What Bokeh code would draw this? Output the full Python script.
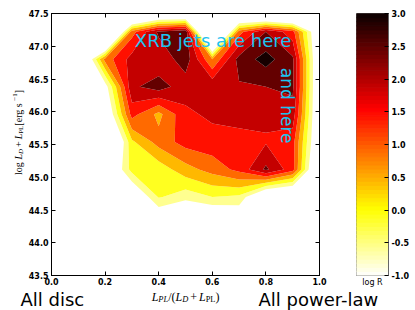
import numpy as np
from bokeh.plotting import figure
from bokeh.layouts import row, column
from bokeh.models import (Label, LinearAxis, FixedTicker, Range1d, ColumnDataSource,
                          PrintfTickFormatter)
from bokeh.embed import file_html
from bokeh.resources import INLINE

# ---------------- data ----------------
frac_pl = [0.0, 0.1, 0.2, 0.3, 0.4, 0.5, 0.6, 0.7, 0.8, 0.9, 1.0]
log_lum = [43.86, 44.28, 44.70, 45.12, 45.54, 45.96, 46.38, 46.80, 47.22, 47.64]

# log R on the grid, one list per luminosity row (x = frac_pl)
log_r_4764 = [-6, -6, -6, -6, -5, -5, -5, -5, -6, -6, -6]
log_r_4722 = [-6, -6, -5, 0.8, 2.1, 2.4, -5, 0.8, 2.0, 1.2, -2]
log_r_4680 = [-6, -2.8, 0.7, 1.7, 1.6, 2.3, 0.5, 2.2, 2.7, 2.1, -2]
log_r_4638 = [-6, -3.5, -1.3, 1.9, 2.25, 1.7, 1.9, 1.95, 2.0, 2.1, -2]
log_r_4596 = [-6, -5, -1.9, 1.2, 0.35, 1.4, 1.6, 1.6, 1.6, 1.8, -2]
log_r_4554 = [-6, -5, -3.1, -0.1, 0.7, 1.2, 1.3, 1.4, 1.45, 1.2, -2]
log_r_4512 = [-6, -5, -2.2, -0.3, -0.3, 0.3, 0.7, 1.15, 2.1, 1.2, -2.5]
log_r_4470 = [-6, -5, -3, -1.9, -0.45, -0.8, -0.5, -0.6, -2.2, -2.5, -3]
log_r_4428 = [-6, -6, -4, -3, -1.94, -2.5, -2.2, -1.9, -3, -3, -4]
log_r_4386 = [-6, -6, -6, -6, -6, -6, -6, -6, -6, -6, -6]

levels = [-1.0, -0.5, 0.0, 0.5, 1.0, 1.5, 2.0, 2.5, 3.0]
band_colors = ["#ffff90", "#ffff20", "#ffb800", "#ff6a00",
               "#ff1000", "#c40000", "#640000", "#160000"]

x_ticks = [0.0, 0.2, 0.4, 0.6, 0.8, 1.0]
y_ticks = [43.5, 44.0, 44.5, 45.0, 45.5, 46.0, 46.5, 47.0, 47.5]
cbar_ticks = [-1.0, -0.5, 0.0, 0.5, 1.0, 1.5, 2.0, 2.5, 3.0]

z = np.array([log_r_4386, log_r_4428, log_r_4470, log_r_4512, log_r_4554,
              log_r_4596, log_r_4638, log_r_4680, log_r_4722, log_r_4764], dtype=float)

SANS = "DejaVu Sans"
SERIF = "Liberation Serif"

# geometry (pixels)
FRAME_W, FRAME_H = 270, 264
TOP, BOTTOM = 13, 12
LEFT_STRIP = 25          # strip holding the rotated y label
P_LEFT, P_RIGHT = 24, 19
CB_LEFT, CB_W, CB_RIGHT = 18, 32, 25
ROW_H = TOP + FRAME_H + BOTTOM
X0, X1 = 0.0, 1.0
Y0, Y1 = 43.5, 47.5
PX_X = FRAME_W / (X1 - X0)
PX_Y = FRAME_H / (Y1 - Y0)

# ---------------- main plot ----------------
p = figure(width=P_LEFT + FRAME_W + P_RIGHT, height=ROW_H, title=None,
           x_range=Range1d(X0, X1), y_range=Range1d(Y0, Y1),
           output_backend="svg", toolbar_location=None,
           min_border_left=P_LEFT, min_border_right=P_RIGHT,
           min_border_top=TOP, min_border_bottom=BOTTOM)
p.grid.visible = False
p.outline_line_color = "black"
p.background_fill_color = "white"
p.border_fill_color = "white"

p.contour(frac_pl, log_lum, z, levels, fill_color=band_colors)

def style_axis(ax, ticks, labels=True):
    ax.ticker = FixedTicker(ticks=ticks)
    ax.formatter = PrintfTickFormatter(format="%.1f")
    ax.major_tick_in = 4
    ax.major_tick_out = 0
    ax.minor_tick_line_color = None
    ax.axis_line_color = "black"
    ax.major_tick_line_color = "black"
    ax.major_label_text_font = SANS
    ax.major_label_text_font_style = "bold"
    ax.major_label_text_font_size = "8px"
    ax.major_label_text_color = "black"
    if not labels:
        ax.major_label_overrides = {t: "" for t in ticks}
        ax.major_label_standoff = 0

style_axis(p.xaxis[0], x_ticks)
p.xaxis[0].major_label_standoff = 2
style_axis(p.yaxis[0], y_ticks)
p.yaxis[0].major_label_standoff = 3
top_ax = LinearAxis()
style_axis(top_ax, x_ticks, labels=False)
p.add_layout(top_ax, "above")
right_ax = LinearAxis()
style_axis(right_ax, y_ticks, labels=False)
p.add_layout(right_ax, "right")

cyan = "#1cc3f0"
p.add_layout(Label(x=0.311, y=47.09, text="XRB jets are here", text_color=cyan,
                   text_font=SANS, text_font_size="18px", text_baseline="alphabetic"))
p.add_layout(Label(x=0.878, y=46.67, text="and here", text_color=cyan, angle=-np.pi / 2,
                   text_font=SANS, text_font_size="17px", text_baseline="middle"))

# ---------------- math-like labels from runs of text ----------------
REG = {' ': 250, '(': 333, ')': 333, '+': 564, '/': 278, '[': 333, ']': 333, '\u2212': 564,
       '1': 500, 'l': 278, 'o': 500, 'g': 500, 'e': 444, 'r': 333, 's': 389,
       'D': 722, 'L': 611, 'P': 556}
ITA = {'L': 556, 'D': 722, 'P': 611}

def run_width(text, style, size):
    table = ITA if style == "italic" else REG
    return sum(table.get(c, REG.get(c, 500)) for c in text) * size / 1000.0

def math_label(fig, x, y, segs, size, rotated, base_off=0):
    total = 0.0
    for text, style, shift, pad in segs:
        s = size * 0.7 if shift != 0 else size
        total += run_width(text, style, s) + 2 * pad
    u = -total / 2.0
    for text, style, shift, pad in segs:
        s = size * 0.7 if shift != 0 else size
        u += pad
        if rotated:
            lab = Label(x=x, y=y, x_offset=-shift, y_offset=u, angle=np.pi / 2)
        else:
            lab = Label(x=x, y=y, x_offset=u, y_offset=base_off + shift)
        lab.text = text
        lab.text_font = SERIF
        lab.text_font_style = style
        lab.text_font_size = "%.1fpx" % s
        lab.text_color = "black"
        lab.text_baseline = "alphabetic"
        lab.text_align = "left"
        fig.add_layout(lab)
        u += run_width(text, style, s) + pad

def blank_fig(width, height, x_range, y_range):
    f = figure(width=width, height=height, x_range=x_range, y_range=y_range, title=None,
               output_backend="svg", toolbar_location=None,
               x_axis_location=None, y_axis_location=None,
               min_border_left=0, min_border_right=0, min_border_top=0, min_border_bottom=0)
    f.grid.visible = False
    f.outline_line_color = None
    f.background_fill_color = "white"
    f.border_fill_color = "white"
    return f

# strip left of the plot: y axis label
yl = blank_fig(LEFT_STRIP, ROW_H, Range1d(0, LEFT_STRIP),
               Range1d(Y0 - BOTTOM / PX_Y, Y1 + TOP / PX_Y))
ylab = [("log ", "normal", 0, 0), ("L", "italic", 0, 0), ("D", "italic", -2.5, 0),
        ("+", "normal", 0, 2), ("L", "italic", 0, 0), ("PL", "normal", -2.5, 0),
        (" [erg s", "normal", 0, 0), ("\u22121", "normal", 4, 0), ("]", "normal", 0, 0)]
math_label(yl, 18, 45.71, ylab, 10, True)

# ---------------- colour bar ----------------
def hot_r(v):
    t = 1.0 - (v - levels[0]) / (levels[-1] - levels[0])
    r = min(1.0, 0.0416 + (1 - 0.0416) * t / 0.365079)
    g = min(1.0, max(0.0, (t - 0.365079) / (0.746032 - 0.365079)))
    b = min(1.0, max(0.0, (t - 0.746032) / (1 - 0.746032)))
    return "#%02x%02x%02x" % (int(round(r * 255)), int(round(g * 255)), int(round(b * 255)))

edges = np.linspace(levels[0], levels[-1], 65)
mids = 0.5 * (edges[:-1] + edges[1:])
cb_src = ColumnDataSource(dict(bottom=edges[:-1], top=edges[1:], color=[hot_r(m) for m in mids]))

cb = figure(width=CB_LEFT + CB_W + CB_RIGHT, height=ROW_H, x_range=Range1d(0, 1), title=None,
            y_range=Range1d(levels[0], levels[-1]), output_backend="svg", toolbar_location=None,
            x_axis_location="below", y_axis_location="right",
            min_border_left=CB_LEFT, min_border_right=CB_RIGHT,
            min_border_top=TOP, min_border_bottom=BOTTOM)
cb.grid.visible = False
cb.outline_line_color = "#666666"
cb.border_fill_color = "white"
cb.quad(left=0, right=1, bottom="bottom", top="top", fill_color="color", line_color="color",
        source=cb_src)
style_axis(cb.yaxis[0], cbar_ticks)
cb.yaxis[0].axis_line_color = "#666666"
cb.yaxis[0].major_label_standoff = 3
cbx = cb.xaxis[0]
cbx.ticker = FixedTicker(ticks=[])
cbx.axis_line_color = None
cbx.major_tick_line_color = None
cbx.minor_tick_line_color = None
cbx.major_tick_in = 0
cbx.major_tick_out = 0
cbx.major_label_standoff = 0
cbx.axis_label = "log R"
cbx.axis_label_standoff = 2
cbx.axis_label_text_font = SANS
cbx.axis_label_text_font_style = "normal"
cbx.axis_label_text_font_size = "8px"
cbx.axis_label_text_color = "black"

# ---------------- strip below: x label and captions ----------------
BOT_H = 310 - ROW_H
frame_left = LEFT_STRIP + P_LEFT
bt = blank_fig(415, BOT_H, Range1d(X0 - frame_left / PX_X, X0 + (415 - frame_left) / PX_X),
               Range1d(0, BOT_H))
bt.add_layout(Label(x=0.0, y=BOT_H, x_offset=-29, y_offset=-10, text="All disc",
                    text_font=SANS, text_font_size="18px", text_color="black",
                    text_baseline="alphabetic"))
bt.add_layout(Label(x=1.0, y=BOT_H, x_offset=-61, y_offset=-10, text="All power-law",
                    text_font=SANS, text_font_size="18px", text_color="black",
                    text_baseline="alphabetic"))
xlab = [("L", "italic", 0, 0), ("PL", "italic", -3, 0), ("/(", "normal", 0, 0),
        ("L", "italic", 0, 0), ("D", "italic", -3, 0), ("+", "normal", 0, 2),
        ("L", "italic", 0, 0), ("PL", "normal", -3, 0), (")", "normal", 0, 0)]
math_label(bt, 0.504, BOT_H, xlab, 12, False, base_off=-7)

layout = column(row(yl, p, cb, spacing=0), bt, spacing=0)
open("out.html", "w").write(file_html(layout, INLINE))
